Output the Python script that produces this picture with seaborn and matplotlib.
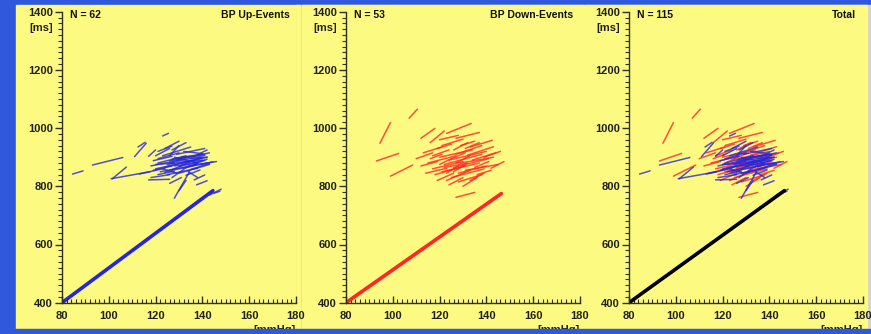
import pandas as pd
import seaborn as sns
import matplotlib.pyplot as plt
from matplotlib.patches import Rectangle
from matplotlib.ticker import MultipleLocator

# BP up-events: ramps of SAP [mmHg] vs RR interval [ms], start -> end
up_x0 = [84.5, 93, 101.5, 101, 111, 112.5, 123, 143, 145, 136.5, 137.5, 128, 130, 113, 117,
         118, 120, 121, 122, 123, 124, 125, 126, 126, 127, 127, 128, 129, 130, 131, 132,
         120, 119, 124, 121, 134, 133, 127, 135, 118, 117, 126, 139, 129, 131, 137, 121,
         125, 120, 132, 134, 123, 127, 130, 124, 133, 121, 128, 135, 119, 126, 131]
up_y0 = [842, 873, 826, 826, 902, 935, 973, 770, 776, 822, 805, 759, 785, 842, 903,
         870, 860, 880, 850, 905, 865, 840, 905, 880, 855, 925, 870, 890, 845, 900, 860,
         905, 888, 930, 840, 870, 838, 830, 895, 830, 822, 810, 874, 910, 880, 905, 920,
         875, 875, 920, 850, 860, 893, 868, 848, 882, 895, 900, 858, 855, 887, 872]
up_x1 = [89, 106, 107.5, 117.5, 116, 115.5, 125.5, 148, 147.5, 141, 142, 134.5, 133, 124, 120,
         131, 134, 133, 137, 135, 140, 138, 130, 141, 142, 133, 138, 143, 143, 141, 142,
         126, 127, 130, 128, 146, 139, 132, 142, 126, 126, 131, 144.5, 141, 140, 142, 127,
         136, 128, 140, 138, 129, 140, 141, 131, 142, 130, 138, 143, 127, 137, 139]
up_y1 = [853, 899, 866, 850, 948, 951, 982, 790, 783, 839, 819, 850, 820, 862, 925,
         892, 885, 905, 873, 935, 898, 862, 940, 906, 880, 950, 880, 915, 875, 910, 893,
         930, 903, 955, 852, 885, 856, 858, 900, 840, 824, 830, 884, 930, 890, 925, 938,
         890, 880, 912, 830, 845, 910, 890, 870, 900, 915, 880, 878, 870, 905, 898]

# BP down-events
down_x0 = [94.5, 107, 93, 99, 127, 142, 112, 123, 116, 120, 127, 133, 132, 113, 115, 117,
           118, 120, 121, 122, 123, 124, 125, 126, 127, 128, 129, 130, 124, 114, 119, 131,
           126, 121, 134, 117, 128, 122, 125, 135, 112, 119, 131, 136, 123, 127, 116, 133,
           120, 129, 139, 126, 110]
down_y0 = [948, 1034, 887, 835, 762, 862, 965, 982, 950, 960, 965, 935, 907, 915, 880, 860,
           840, 900, 850, 875, 820, 890, 830, 865, 910, 845, 880, 800, 805, 845, 820, 855,
           925, 940, 890, 905, 815, 865, 895, 865, 870, 930, 930, 840, 845, 880, 895, 820,
           875, 940, 900, 850, 895]
down_x1 = [99, 110.5, 102.5, 108.5, 135, 147.5, 118, 133.5, 122, 128, 137, 142.5, 143, 121, 127, 130,
           131, 134, 137, 138, 133, 140, 139, 141, 138, 140, 143, 136, 130, 123, 126, 145,
           132, 130, 144, 124, 138, 132, 131, 141, 119, 125, 137, 142, 128, 133, 121, 139,
           125, 135, 146, 131, 117]
down_y1 = [1019, 1065, 913, 873, 779, 885, 999, 1016, 990, 975, 985, 958, 936, 935, 905, 885,
           870, 925, 880, 910, 855, 920, 860, 895, 940, 870, 900, 830, 830, 862, 845, 875,
           950, 962, 915, 925, 840, 880, 915, 885, 885, 945, 950, 855, 870, 905, 910, 845,
           895, 955, 920, 875, 915]

# regression lines (start / end) per panel
reg_x = [[80, 144.5], [80, 146.4], [80, 146.4]]
reg_y = [[400, 785], [400, 775], [400, 785]]

titles = ["BP Up-Events", "BP Down-Events", "Total"]
counts = ["N = 62", "N = 53", "N = 115"]

BLUE_BG = "#3058dc"
YELLOW = "#fdfa82"
SEG_BLUE = "#2626e0"
SEG_RED = "#ff2626"


def seg_frame(x0, y0, x1, y1):
    rows = []
    for i in range(len(x0)):
        rows.append({"seg": i, "x": x0[i], "y": y0[i]})
        rows.append({"seg": i, "x": x1[i], "y": y1[i]})
    return pd.DataFrame(rows)


up_df = seg_frame(up_x0, up_y0, up_x1, up_y1)
down_df = seg_frame(down_x0, down_y0, down_x1, down_y1)

sns.set_style("ticks")
plt.rcParams["font.family"] = ["Liberation Sans", "DejaVu Sans"]
plt.rcParams["font.weight"] = "bold"

W, H = 871, 334
fig = plt.figure(figsize=(W / 100, H / 100), dpi=100)
fig.patch.set_facecolor(BLUE_BG)

# grey frame + yellow panels (pixel coords, from top)
fig.patches.append(Rectangle((296 / W, (H - 329) / H), (W - 296) / W, 324 / H,
                             transform=fig.transFigure, color="#d4d4d4", zorder=-2))
panels = [(16, 300), (301.5, 583.5), (585, 867)]
for px0, px1 in panels:
    fig.patches.append(Rectangle((px0 / W, (H - 329) / H), (px1 - px0) / W, 324 / H,
                                 transform=fig.transFigure, color=YELLOW, zorder=-1))

axes_left = [62, 346, 629]
for k in range(3):
    ax = fig.add_axes([axes_left[k] / W, (H - 302.7) / H, 234 / W, 291 / H])
    ax.set_facecolor(YELLOW)

    if k in (1, 2):
        sns.lineplot(data=down_df, x="x", y="y", units="seg", estimator=None, sort=False,
                     color=SEG_RED, lw=1.1, alpha=0.8, ax=ax, legend=False)
    if k in (0, 2):
        sns.lineplot(data=up_df, x="x", y="y", units="seg", estimator=None, sort=False,
                     color=SEG_BLUE, lw=1.1, alpha=0.8, ax=ax, legend=False)
    reg_col = [SEG_BLUE, SEG_RED, "black"][k]
    sns.lineplot(x=reg_x[k], y=reg_y[k], color=reg_col, lw=2.6, ax=ax)

    ax.set_xlim(80, 180)
    ax.set_ylim(400, 1400)
    ax.set_xlabel("")
    ax.set_ylabel("")
    ax.xaxis.set_major_locator(MultipleLocator(20))
    ax.xaxis.set_minor_locator(MultipleLocator(2))
    ax.yaxis.set_major_locator(MultipleLocator(200))
    ax.yaxis.set_minor_locator(MultipleLocator(20))
    for s in ["top", "right"]:
        ax.spines[s].set_visible(False)
    for s in ["left", "bottom"]:
        ax.spines[s].set_color("#303020")
        ax.spines[s].set_linewidth(1.0)
    ax.tick_params(axis="y", which="major", direction="out", length=5, width=1,
                   color="#303020", labelsize=8, pad=1.5)
    ax.tick_params(axis="y", which="minor", direction="out", length=3, width=0.8, color="#303020")
    ax.tick_params(axis="x", which="major", direction="in", length=5, width=1,
                   color="#303020", labelsize=8, pad=6)
    ax.tick_params(axis="x", which="minor", direction="in", length=3, width=0.8, color="#303020")
    for lab in ax.get_xticklabels() + ax.get_yticklabels():
        lab.set_fontweight("bold")
        lab.set_color("#202020")

    ax.text(-0.038, 1344, "[ms]", transform=ax.get_yaxis_transform(), ha="right", va="center",
            fontsize=8, fontweight="bold", color="#202020")
    ax.text(1.0, -0.075, "[mmHg]", transform=ax.transAxes, ha="right", va="top",
            fontsize=8, fontweight="bold", color="#202020", clip_on=False)
    ax.text(0.036, 0.987, counts[k], transform=ax.transAxes, ha="left", va="center",
            fontsize=7.5, fontweight="bold", color="#101010")
    ax.text(0.972, 0.987, titles[k], transform=ax.transAxes, ha="right", va="center",
            fontsize=7.5, fontweight="bold", color="#101010")

# blue band at the bottom cuts the unit labels like in the original
fig.patches.append(Rectangle((0, 0), 1, (H - 329) / H, transform=fig.transFigure,
                             color=BLUE_BG, zorder=5))

fig.savefig("out.png", dpi=100, facecolor=fig.get_facecolor())
